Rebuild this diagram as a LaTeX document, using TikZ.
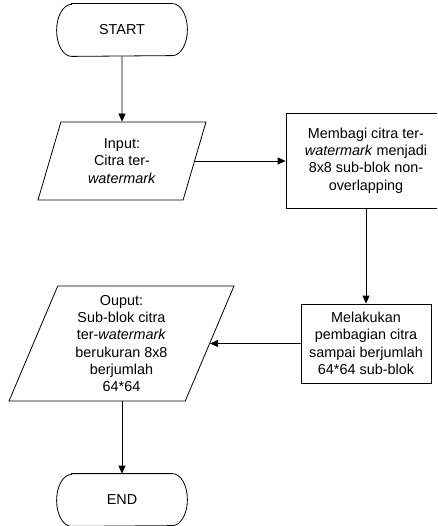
\documentclass[tikz,border=0pt]{standalone}
\usepackage{fontspec}
\setmainfont{Liberation Sans}
\usetikzlibrary{shapes.geometric,arrows.meta}
\begin{document}
\begin{tikzpicture}[x=1pt,y=-1pt,
  font=\fontsize{14.4}{17.3}\selectfont,
  line width=0.8pt,
  flow/.style={-{Triangle[length=8pt,width=7pt]}},
  termtext/.style={rectangle, inner sep=0pt, minimum width=130pt, minimum height=52pt},
  procbox/.style={draw, rectangle, align=center, inner sep=0pt},
  iobox/.style={draw, trapezium, trapezium stretches body, align=center, inner sep=0pt}]
\useasboundingbox (0,0) rectangle (437,526);
\clip (0,0) rectangle (437,526);

% terminators (text only; the outline is drawn below)
\node[termtext] (start) at (122,30) {START};
\node[termtext] (end) at (122,500) {END};

% input / output parallelograms
\node[iobox, minimum width=168pt, minimum height=78pt,
      trapezium left angle=62.85, trapezium right angle=117.15] (in) at (122,161)
  {Input:\\Citra ter-\\\textit{watermark}};
\node[iobox, minimum width=225pt, minimum height=115pt,
      trapezium left angle=63.24, trapezium right angle=116.76] (out) at (121.5,343.5)
  {Ouput:\\Sub-blok citra\\ter-\textit{watermark}\\berukuran 8x8\\berjumlah\\64*64};

% process boxes
\node[procbox, minimum width=160pt, minimum height=95pt] (split) at (366,160.5)
  {Membagi citra ter-\\\textit{watermark} menjadi\\8x8 sub-blok non-\\overlapping};
\node[procbox, minimum width=130pt, minimum height=79pt] (count) at (366,343.5)
  {Melakukan\\pembagian citra\\sampai berjumlah\\64*64 sub-blok};

% terminator outlines with elliptical ends
\foreach \t in {start,end}{
  \draw ([xshift=15pt]\t.north west) -- ([xshift=-15pt]\t.north east)
    arc[start angle=90, end angle=-90, x radius=15pt, y radius=26pt]
    -- ([xshift=15pt]\t.south west)
    arc[start angle=270, end angle=90, x radius=15pt, y radius=26pt] -- cycle;
}

% connectors
\draw[flow] (start.south) -- (in.north);
\draw[flow] (in.east) -- (split.west |- in.east);
\draw[flow] (split.south) -- (count.north);
\draw[flow] (count.west) -- (out.east);
\draw[flow] (out.south -| end.north) -- (end.north);
\end{tikzpicture}
\end{document}
